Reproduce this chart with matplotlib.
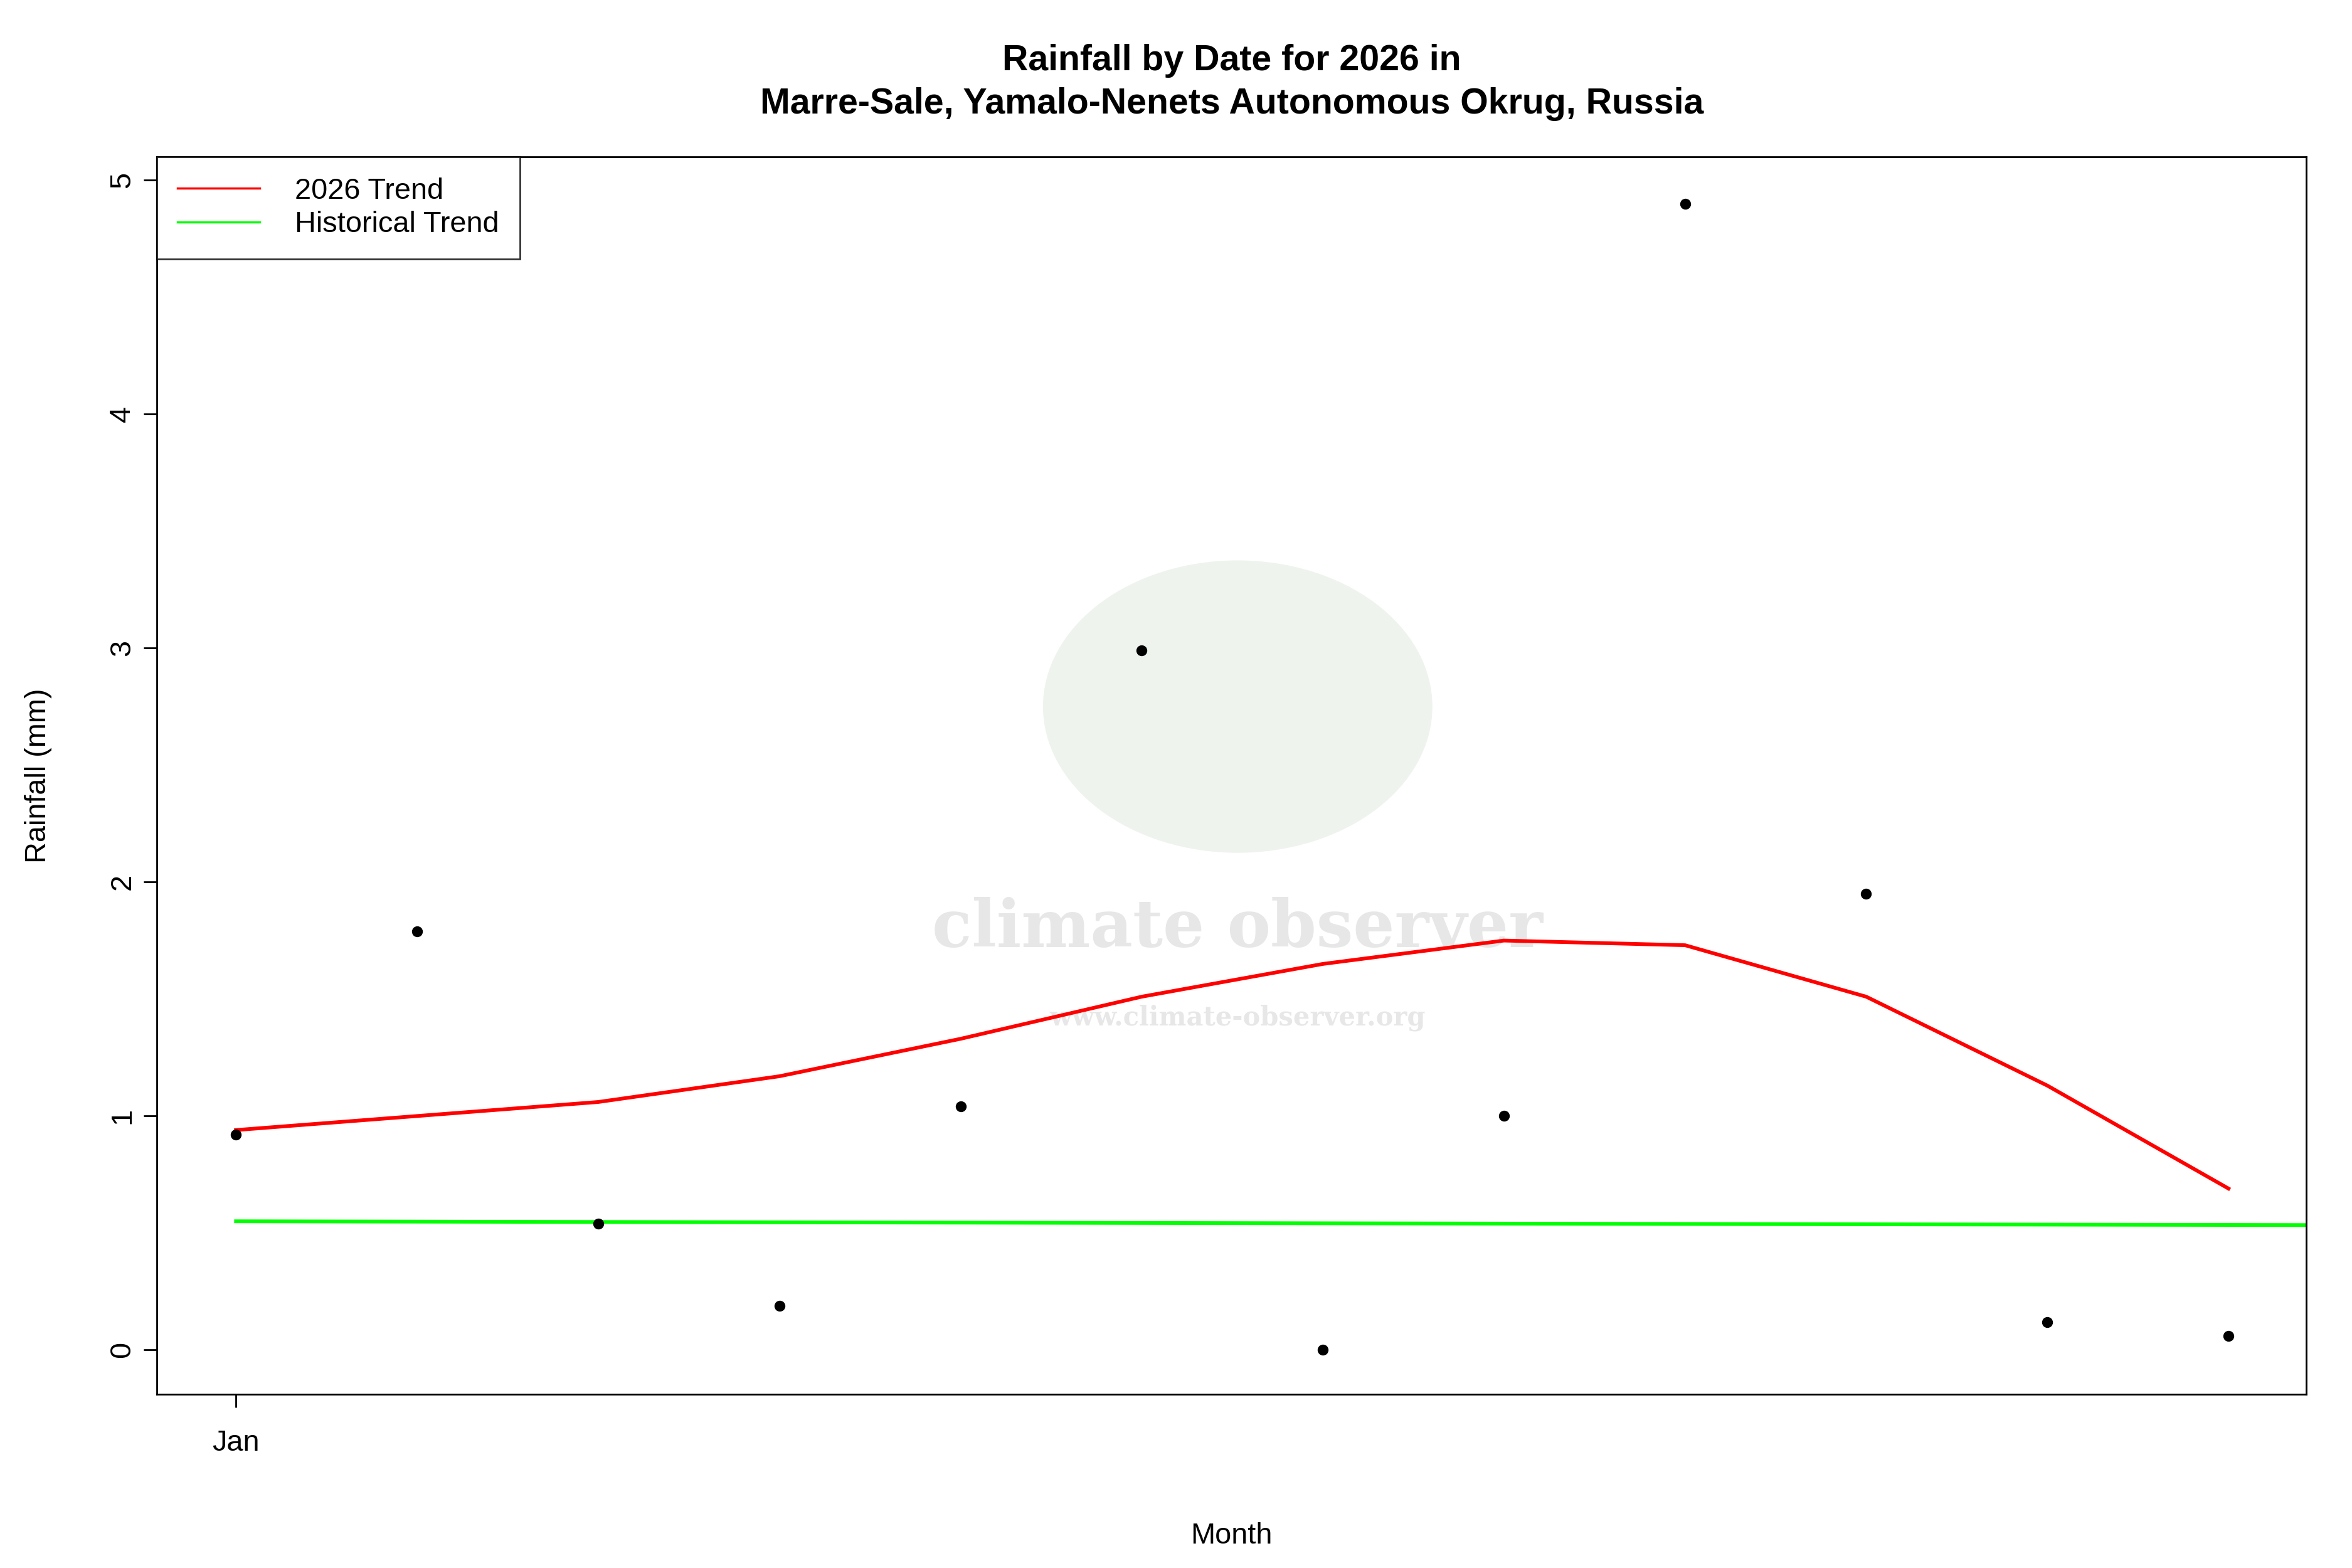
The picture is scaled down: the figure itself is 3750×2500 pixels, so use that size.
import matplotlib
matplotlib.use("Agg")
import matplotlib.pyplot as plt
from matplotlib.patches import Ellipse

plt.rcParams["font.family"] = ["Liberation Sans", "DejaVu Sans"]

months = list(range(12))
rain = [0.92, 1.79, 0.54, 0.19, 1.04, 2.99, 0.0, 1.0, 4.9, 1.95, 0.12, 0.06]
trend_2026 = [0.94, 1.0, 1.06, 1.17, 1.33, 1.51, 1.65, 1.75, 1.73, 1.51, 1.13, 0.69]
hist_x = [0, 12]
hist_y = [0.55, 0.533]

fig = plt.figure(figsize=(15, 10), dpi=250)
ax = fig.add_axes([0.0667, 0.1107, 0.9139, 0.7893])

# watermark
ax.add_patch(Ellipse((5.53, 2.75), 2.15, 1.25, transform=ax.transData,
                     color="#e4ebe4", alpha=0.6, zorder=0, lw=0))
ax.text(5.53, 1.8, "climate observer", ha="center", va="center", fontsize=30,
        fontweight="bold", color="#d8d8d8", alpha=0.6, zorder=0, family="DejaVu Serif")
ax.text(5.53, 1.42, "www.climate-observer.org", ha="center", va="center", fontsize=12,
        fontweight="bold", color="#d8d8d8", alpha=0.6, zorder=0, family="DejaVu Serif")

ax.scatter(months, rain, s=16, color="black", zorder=3)
ax.plot(months, trend_2026, color="red", lw=1.7, label="2026 Trend", zorder=2)
ax.plot(hist_x, hist_y, color="#00ff00", lw=1.7, label="Historical Trend", zorder=2)

ax.set_xlim(-0.437, 11.43)
ax.set_ylim(-0.19, 5.1)
ax.set_xticks([0])
ax.set_xticklabels(["Jan"], fontsize=13.5)
ax.set_yticks([0, 1, 2, 3, 4, 5])
ax.set_yticklabels(["0", "1", "2", "3", "4", "5"], rotation=90, va="center", fontsize=13.5)
ax.tick_params(length=6)
ax.tick_params(axis="x", pad=10)
ax.set_xlabel("Month", fontsize=13.5, labelpad=30)
ax.set_ylabel("Rainfall (mm)", fontsize=13.5, labelpad=26)
ax.set_title("Rainfall by Date for 2026 in\nMarre-Sale, Yamalo-Nenets Autonomous Okrug, Russia",
             fontsize=16.5, fontweight="bold", pad=20, linespacing=1.35)

leg = ax.legend(loc="upper left", fontsize=13.5, frameon=True, fancybox=False,
                borderaxespad=0, handlelength=2.8, borderpad=0.7, labelspacing=0.2,
                handletextpad=1.2)
leg.get_frame().set_edgecolor("black")
leg.get_frame().set_linewidth(0.8)
for line in leg.get_lines():
    line.set_linewidth(1.0)

fig.savefig("out.png", dpi=250)
